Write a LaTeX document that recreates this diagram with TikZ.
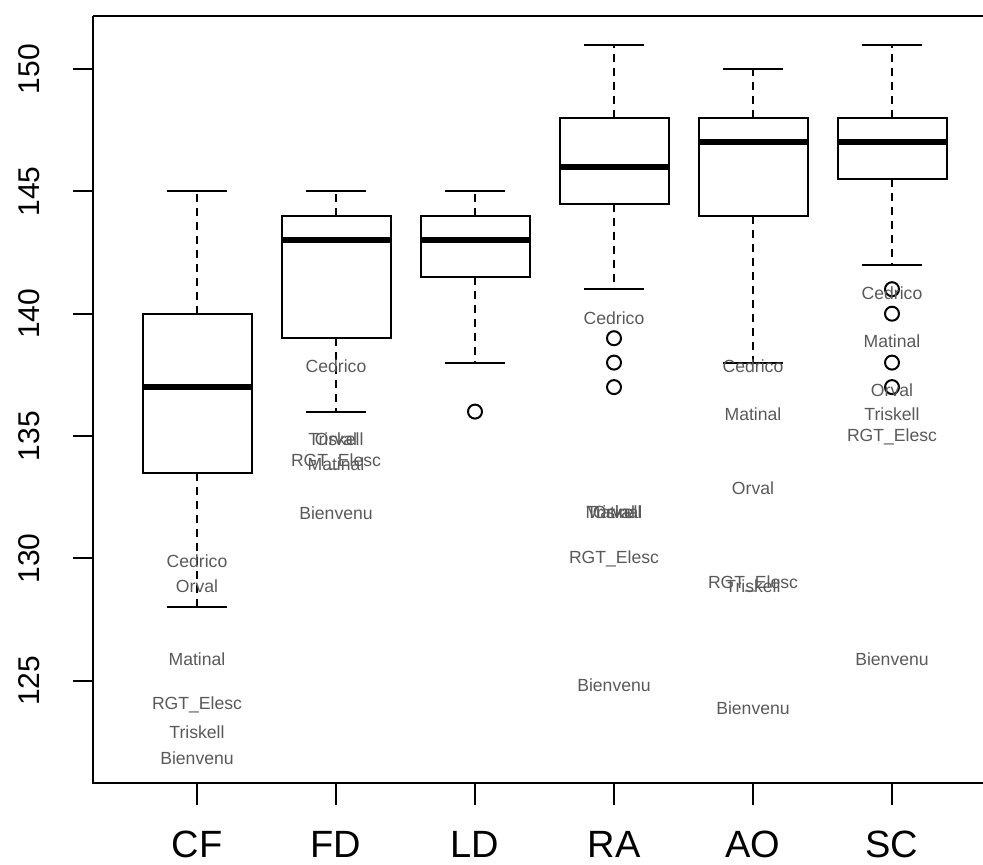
\documentclass[tikz,border=0pt]{standalone}
\usepackage{fontspec}
\setmainfont{Liberation Sans}
\usepackage{tikz}
\tikzset{every picture/.style={line width=1.5pt}}
\tikzset{
  boxline/.style={draw=black, line width=1.5pt},
  medianline/.style={draw=black, line width=4.5pt},
  whisker/.style={draw=black, line width=1.5pt, dash pattern=on 6pt off 4.5pt},
  outlier/.style={draw=black, line width=1.5pt},
  brandlbl/.style={inner sep=0pt, text=black!65, font=\fontsize{13.2}{14}\selectfont},
  ticklbl/.style={inner sep=0pt, font=\fontsize{22.5}{24}\selectfont},
  grouplbl/.style={inner sep=0pt, anchor=base, font=\fontsize{28.5}{30}\selectfont}
}

\begin{document}
\begin{tikzpicture}[x=0.75pt,y=0.75pt,yscale=-1,xscale=1]
\useasboundingbox (0,0) rectangle (983,865);

%Shape: Frame
\draw [boxline] (93,16) -- (1000,16) (93,16) -- (93,783) -- (1000,783) ;

%Y axis ticks
\draw [boxline] (73,69) -- (93,69) (73,191.4) -- (93,191.4) (73,313.7) -- (93,313.7) (73,436) -- (93,436) (73,558.4) -- (93,558.4) (73,680.8) -- (93,680.8) ;
% Text Node
\draw (29,69) node [ticklbl, rotate=90] (t150) {150};
\draw (29,191.4) node [ticklbl, rotate=90] (t145) {145};
\draw (29,313.7) node [ticklbl, rotate=90] (t140) {140};
\draw (29,436) node [ticklbl, rotate=90] (t135) {135};
\draw (29,558.4) node [ticklbl, rotate=90] (t130) {130};
\draw (29,680.8) node [ticklbl, rotate=90] (t125) {125};

%X axis ticks
\draw [boxline] (197,783) -- (197,805) (336,783) -- (336,805) (475,783) -- (475,805) (614,783) -- (614,805) (753,783) -- (753,805) (892,783) -- (892,805) ;
% Text Node
\draw (197,857) node [grouplbl] (gCF) {CF};
\draw (336,857) node [grouplbl] (gFD) {FD};
\draw (475,857) node [grouplbl] (gLD) {LD};
\draw (614,857) node [grouplbl] (gRA) {RA};
\draw (753,857) node [grouplbl] (gAO) {AO};
\draw (892,857) node [grouplbl] (gSC) {SC};

%Box: CF
\draw [whisker] (197,313.7) -- (197,191.4) (197,472.8) -- (197,607.3) ;
\draw [boxline] (167,191.4) -- (227,191.4) (167,607.3) -- (227,607.3) ;
\draw [boxline] (142.5,313.7) rectangle (251.5,472.8) ;
\draw [medianline] (142.5,387.1) -- (251.5,387.1) ;
%Box: FD
\draw [whisker] (336,215.8) -- (336,191.4) (336,338.2) -- (336,411.6) ;
\draw [boxline] (306,191.4) -- (366,191.4) (306,411.6) -- (366,411.6) ;
\draw [boxline] (281.5,215.8) rectangle (390.5,338.2) ;
\draw [medianline] (281.5,240.3) -- (390.5,240.3) ;
%Box: LD
\draw [whisker] (475,215.8) -- (475,191.4) (475,277) -- (475,362.6) ;
\draw [boxline] (445,191.4) -- (505,191.4) (445,362.6) -- (505,362.6) ;
\draw [boxline] (420.5,215.8) rectangle (529.5,277) ;
\draw [medianline] (420.5,240.3) -- (529.5,240.3) ;
\draw [outlier] (475,411.6) circle [radius=7] ;
%Box: RA
\draw [whisker] (614,118) -- (614,45) (614,203.6) -- (614,289.2) ;
\draw [boxline] (584,45) -- (644,45) (584,289.2) -- (644,289.2) ;
\draw [boxline] (559.5,118) rectangle (668.5,203.6) ;
\draw [medianline] (559.5,167) -- (668.5,167) ;
\draw [outlier] (614,338.2) circle [radius=7] (614,362.6) circle [radius=7] (614,387.1) circle [radius=7] ;
%Box: AO
\draw [whisker] (753,118) -- (753,69) (753,215.8) -- (753,362.6) ;
\draw [boxline] (723,69) -- (783,69) (723,362.6) -- (783,362.6) ;
\draw [boxline] (698.5,118) rectangle (807.5,215.8) ;
\draw [medianline] (698.5,142.4) -- (807.5,142.4) ;
%Box: SC
\draw [whisker] (892,118) -- (892,45) (892,179.4) -- (892,264.8) ;
\draw [boxline] (862,45) -- (922,45) (862,264.8) -- (922,264.8) ;
\draw [boxline] (837.5,118) rectangle (946.5,179.4) ;
\draw [medianline] (837.5,142.4) -- (946.5,142.4) ;
\draw [outlier] (892,289.2) circle [radius=7] (892,313.7) circle [radius=7] (892,362.6) circle [radius=7] (892,387.1) circle [radius=7] ;

% Text Node: CF labels
\draw (197,561) node [brandlbl] (cfCed) {Cedrico};
\draw (197,586) node [brandlbl] (cfOrv) {Orval};
\draw (197,659) node [brandlbl] (cfMat) {Matinal};
\draw (197,705) node [brandlbl] (cfRGT) {RGT\_Elesc};
\draw (197,732) node [brandlbl] (cfTri) {Triskell};
\draw (197,758) node [brandlbl] (cfBie) {Bienvenu};
% Text Node: FD labels
\draw (336,366) node [brandlbl] (fdCed) {Cedrico};
\draw (336,439) node [brandlbl] (fdTri) {Triskell};
\draw (336,439) node [brandlbl] (fdOrv) {Orval};
\draw (336,462) node [brandlbl] (fdRGT) {RGT\_Elesc};
\draw (336,464) node [brandlbl] (fdMat) {Matinal};
\draw (336,513) node [brandlbl] (fdBie) {Bienvenu};
% Text Node: RA labels
\draw (614,318) node [brandlbl] (raCed) {Cedrico};
\draw (614,512) node [brandlbl] (raTri) {Triskell};
\draw (614,512) node [brandlbl] (raOrv) {Orval};
\draw (614,512) node [brandlbl] (raMat) {Matinal};
\draw (614,559) node [brandlbl] (raRGT) {RGT\_Elesc};
\draw (614,685) node [brandlbl] (raBie) {Bienvenu};
% Text Node: AO labels
\draw (753,366) node [brandlbl] (aoCed) {Cedrico};
\draw (753,414) node [brandlbl] (aoMat) {Matinal};
\draw (753,488) node [brandlbl] (aoOrv) {Orval};
\draw (753,584) node [brandlbl] (aoRGT) {RGT\_Elesc};
\draw (753,586) node [brandlbl] (aoTri) {Triskell};
\draw (753,708) node [brandlbl] (aoBie) {Bienvenu};
% Text Node: SC labels
\draw (892,293) node [brandlbl] (scCed) {Cedrico};
\draw (892,341) node [brandlbl] (scMat) {Matinal};
\draw (892,390) node [brandlbl] (scOrv) {Orval};
\draw (892,414) node [brandlbl] (scTri) {Triskell};
\draw (892,437) node [brandlbl] (scRGT) {RGT\_Elesc};
\draw (892,659) node [brandlbl] (scBie) {Bienvenu};
\end{tikzpicture}
\end{document}
